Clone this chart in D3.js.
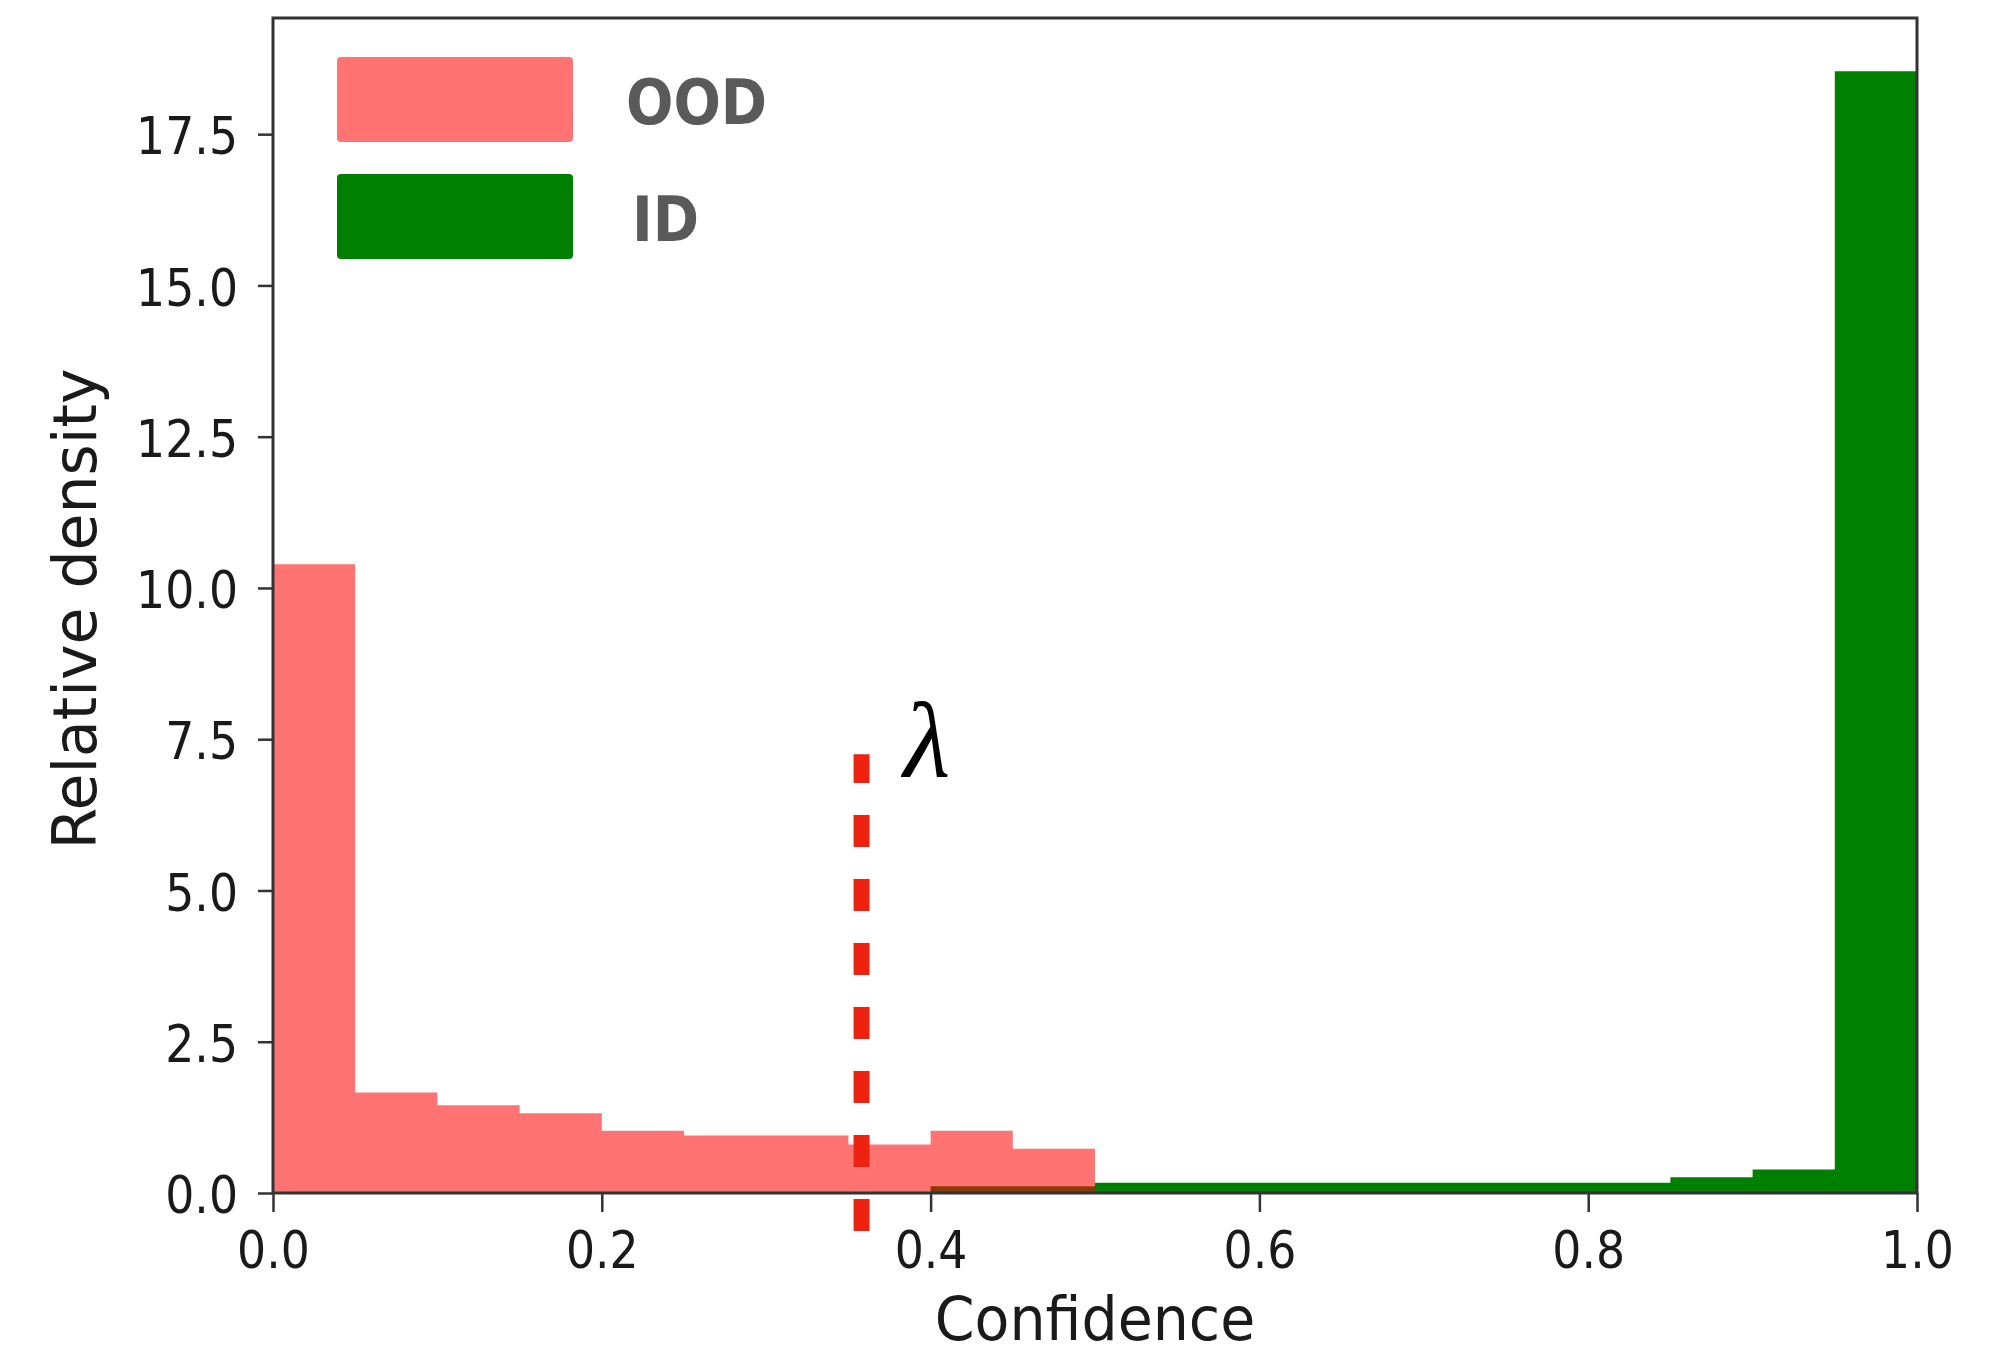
<!DOCTYPE html>
<html>
<head>
<meta charset="utf-8">
<script src="https://cdn.jsdelivr.net/npm/d3@7"></script>
<style>
  body { margin: 0; background: #fff; }
  svg { display: block; }
</style>
</head>
<body>
<svg id="chart" width="2010" height="1355"></svg>
<script>
// histogram bins (confidence)
const binEdges = [0, 0.05, 0.1, 0.15, 0.2, 0.25, 0.3, 0.35, 0.4, 0.45, 0.5,
                  0.55, 0.6, 0.65, 0.7, 0.75, 0.8, 0.85, 0.9, 0.95, 1.0];
const oodDensity = [10.39, 1.66, 1.45, 1.32, 1.03, 0.95, 0.95, 0.80, 1.03, 0.73,
                    0, 0, 0, 0, 0, 0, 0, 0, 0, 0];
const idDensity = [0, 0, 0, 0, 0, 0, 0, 0, 0.11, 0.11,
                   0.17, 0.17, 0.17, 0.17, 0.17, 0.17, 0.17, 0.26, 0.39, 18.54];
const xTicks = [0, 0.2, 0.4, 0.6, 0.8, 1.0];
const yTicks = [0, 2.5, 5, 7.5, 10, 12.5, 15, 17.5];
const threshold = 0.358;     // lambda
const thresholdSpan = [-0.63, 7.25];
const legendItems = ['OOD', 'ID'];

const margin = { left: 273, right: 2010 - 1917, top: 18, bottom: 1355 - 1193 };
const width = 2010 - margin.left - margin.right;
const height = 1355 - margin.top - margin.bottom;

const oodColor = '#ff0000';
const idColor = '#008000';
const squash = 0.88;

const svg = d3.select('#chart');
const g = svg.append('g').attr('transform', `translate(${margin.left},${margin.top})`);

const x = d3.scaleLinear().domain([0, 1]).range([0, width]);
const y = d3.scaleLinear().domain([0, 19.42]).range([height, 0]);

const bins = binEdges.slice(0, -1).map((x0, i) => ({
    x0, x1: binEdges[i + 1], ood: oodDensity[i], id: idDensity[i]
}));

// step outline of a histogram, so that neighbouring bins share no seam
const stepArea = key => {
    const pts = [[x(bins[0].x0), y(0)]];
    bins.forEach(d => {
        pts.push([x(d.x0), y(d[key])], [x(d.x1), y(d[key])]);
    });
    pts.push([x(bins[bins.length - 1].x1), y(0)]);
    return d3.line()(pts) + 'Z';
};

// ID first, OOD drawn on top with transparency
g.append('path')
    .attr('d', stepArea('id'))
    .attr('fill', idColor);

g.append('path')
    .attr('d', stepArea('ood'))
    .attr('fill', oodColor)
    .attr('fill-opacity', 0.55);

// frame
g.append('rect')
    .attr('width', width)
    .attr('height', height)
    .attr('fill', 'none')
    .attr('stroke', '#333')
    .attr('stroke-width', 3);

const styleAxis = (sel, squashX) => {
    sel.select('.domain').remove();
    sel.selectAll('.tick line').attr('stroke', '#333').attr('stroke-width', 2.5);
    sel.selectAll('.tick text')
        .attr('fill', '#1a1a1a')
        .style('font-family', '"DejaVu Sans", sans-serif')
        .style('font-size', '52px')
        .each(function() {
            const t = d3.select(this);
            const tx = +t.attr('x') || 0;
            t.attr('x', 0).attr('transform', `translate(${tx},0) scale(${squashX},1)`);
        });
};

g.append('g')
    .attr('transform', `translate(0,${height})`)
    .call(d3.axisBottom(x).tickValues(xTicks).tickFormat(d3.format('.1f')).tickSize(19).tickPadding(19))
    .call(sel => styleAxis(sel, squash))
    .selectAll('.tick text').attr('dy', '0.71em');

g.append('g')
    .call(d3.axisLeft(y).tickValues(yTicks).tickFormat(d3.format('.1f')).tickSize(15).tickPadding(20))
    .call(sel => styleAxis(sel, squash))
    .selectAll('.tick text').attr('dy', '0.38em');

// axis labels
svg.append('text')
    .attr('transform', `translate(${margin.left + width / 2},1340) scale(0.95,1)`)
    .attr('text-anchor', 'middle')
    .attr('fill', '#1a1a1a')
    .style('font-family', '"DejaVu Sans", sans-serif')
    .style('font-size', '60px')
    .text('Confidence');

svg.append('text')
    .attr('transform', `translate(96,609) rotate(-90)`)
    .attr('text-anchor', 'middle')
    .attr('fill', '#1a1a1a')
    .style('font-family', '"DejaVu Sans", sans-serif')
    .style('font-size', '60px')
    .text('Relative density');

// threshold line
g.append('line')
    .attr('x1', x(threshold)).attr('x2', x(threshold))
    .attr('y1', y(thresholdSpan[0])).attr('y2', y(thresholdSpan[1]))
    .attr('stroke', '#ee2211')
    .attr('stroke-width', 16)
    .attr('stroke-dasharray', '32,32');

g.append('text')
    .attr('x', x(threshold) + 42)
    .attr('y', y(thresholdSpan[1]) + 23)
    .attr('fill', '#000')
    .style('font-family', '"Liberation Serif", "DejaVu Serif", serif')
    .style('font-style', 'italic')
    .style('font-size', '108px')
    .text('λ');

// legend
const legend = svg.append('g').attr('transform', 'translate(337,57)');
const legendColors = [d3.color(oodColor).copy({ opacity: 0.55 }).formatRgb(), idColor];
legendItems.forEach((name, i) => {
    const row = legend.append('g').attr('transform', `translate(0,${i * 117})`);
    row.append('rect')
        .attr('width', 236)
        .attr('height', 85)
        .attr('rx', 4)
        .attr('fill', legendColors[i]);
    row.append('text')
        .attr('transform', `translate(${name === 'ID' ? 295 : 289},67) scale(0.9,1)`)
        .attr('fill', '#5a5a5a')
        .style('font-family', '"DejaVu Sans", sans-serif')
        .style('font-weight', 'bold')
        .style('font-size', '62px')
        .text(name);
});
</script>
</body>
</html>
